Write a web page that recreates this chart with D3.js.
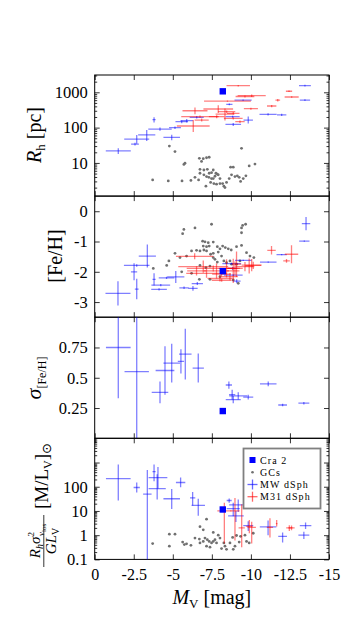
<!DOCTYPE html>
<html>
<head>
<meta charset="utf-8">
<script src="https://cdn.jsdelivr.net/npm/d3@7"></script>
<style>
  body { margin: 0; background: #fff; }
  svg text { font-family: "Liberation Serif", "DejaVu Serif", serif; fill: #000; }
  .tick line { stroke: #000; stroke-width: 0.8; }
  .domain { display: none; }
</style>
</head>
<body>
<script>
// ---- data ----
var cra2 = { mv: -8.2, rh: 1066, feh: -1.98, sigFeh: 0.225, sigFehErr: 0.025, ml: 11.5 };

// Rh panel: [Mv, Rh, xerr, lo, hi]
var mwRh = [
  [-1.51, 22, 0.8, 18, 26], [-2.58, 34, 0.25, 31, 37], [-2.69, 47, 0.8, 35, 62],
  [-3.33, 62, 0.55, 42, 85], [-3.8, 168, 0.1, 140, 195], [-4.18, 91, 0.75, 82, 100],
  [-4.93, 53, 0.53, 44, 63], [-5.14, 100, 0.38, 92, 108], [-5.57, 147, 0.4, 132, 160],
  [-5.89, 157, 0.4, 140, 175], [-6.53, 196, 0.45, 180, 212], [-8.62, 456, 0.2, 430, 480],
  [-8.83, 204, 0.45, 190, 218], [-8.87, 124, 0.5, 112, 136], [-9.5, 600, 0.55, 570, 630],
  [-9.83, 164, 0.3, 130, 205], [-11.1, 238, 0.55, 222, 255], [-11.97, 230, 0.3, 215, 245],
  [-13.46, 600, 0.33, 565, 640], [-13.46, 1540, 0.38, 1450, 1640]
];
var m31Rh = [
  [-9.19, 1540, 0.75, 1470, 1610], [-10.05, 800, 0.9, 740, 860], [-9.62, 760, 0.6, 710, 810],
  [-12.44, 1070, 0.2, 1020, 1120], [-12.61, 735, 0.45, 700, 770], [-11.72, 600, 0.15, 550, 650],
  [-11.33, 410, 0.3, 380, 440], [-10.0, 343, 0.45, 320, 366], [-8.5, 565, 1.5, 540, 590],
  [-7.91, 337, 0.95, 260, 430], [-6.42, 300, 0.8, 240, 370], [-8.45, 282, 0.55, 260, 305],
  [-8.87, 254, 0.4, 235, 275], [-6.74, 204, 1.2, 190, 220], [-6.31, 111, 1.05, 75, 165],
  [-7.81, 204, 0.5, 185, 225], [-9.3, 147, 0.3, 135, 160], [-8.87, 183, 0.6, 170, 196],
  [-6.85, 164, 0.45, 150, 180], [-8.34, 240, 0.6, 160, 350]
];
var gcRh = [
  [-3.71, 3.3], [-4.71, 3.1], [-5.59, 3.1], [-4.78, 30], [-5.14, 21], [-5.71, 9.1], [-5.78, 9.8],
  [-6.16, 3.2], [-6.42, 3.9], [-6.65, 3.3], [-6.7, 13.5], [-6.95, 13.2], [-7.16, 14], [-7.33, 14.5],
  [-6.84, 11], [-6.74, 6.6], [-6.99, 6.3], [-7.21, 6.6], [-7.33, 5.1], [-7.48, 5.3], [-7.59, 6.3],
  [-7.76, 5.1], [-7.85, 4.8], [-6.99, 4.6], [-7.16, 4.1], [-7.31, 3.9], [-7.48, 3.6], [-7.59, 3.6],
  [-7.7, 4.2], [-7.91, 4.6], [-7.12, 2.2], [-7.42, 2.8], [-7.63, 2.6], [-7.8, 2.5], [-8.02, 2.6],
  [-8.19, 2.6], [-8.27, 2.2], [-8.34, 2.0], [-8.44, 2.8], [-8.61, 3.6], [-8.7, 7.6], [-8.87, 7.6],
  [-8.76, 4.6], [-8.98, 4.1], [-9.13, 4.3], [-9.25, 3.9], [-9.34, 3.0], [-9.4, 26], [-9.51, 3.6],
  [-9.68, 4.3], [-9.89, 8.2], [-10.26, 9.3], [-6.74, 5.1], [-8.02, 3.6]
];

// [Fe/H] panel: [Mv, FeH, xerr, yerr]
var mwFeh = [
  [-1.49, -2.71, 0.8, 0.4], [-2.52, -2.0, 0.2, 0.28], [-2.69, -1.79, 0.82, 0.04],
  [-3.37, -1.48, 0.55, 0.38], [-2.69, -2.57, 0.12, 0.34], [-3.8, -2.25, 0.1, 0.2],
  [-4.23, -2.44, 0.6, 0.04], [-4.12, -2.58, 0.5, 0.04], [-5.19, -2.17, 0.55, 0.2],
  [-4.6, -2.2, 0.5, 0.04], [-5.72, -2.53, 0.3, 0.04], [-6.29, -2.55, 0.3, 0.08],
  [-6.57, -2.39, 0.36, 0.05], [-13.53, -0.41, 0.27, 0.22], [-13.42, -0.99, 0.33, 0.02],
  [-11.11, -1.68, 0.53, 0.02], [-11.97, -1.43, 0.33, 0.02], [-9.51, -1.62, 0.53, 0.02],
  [-8.77, -1.73, 0.6, 0.03], [-8.87, -2.11, 0.6, 0.03], [-9.09, -2.31, 0.25, 0.06],
  [-8.83, -1.89, 0.3, 0.05]
];
var m31Feh = [
  [-6.4, -1.49, 1.2, 0.1], [-6.95, -1.83, 1.6, 0.2], [-7.59, -1.89, 1.7, 0.1],
  [-7.8, -1.97, 0.8, 0.25], [-7.16, -2.05, 1.3, 0.15], [-8.44, -1.89, 0.5, 0.3],
  [-8.87, -1.97, 0.4, 0.4], [-9.08, -1.75, 0.3, 0.42], [-9.62, -1.83, 0.6, 0.15],
  [-9.89, -1.81, 0.25, 0.25], [-10.15, -1.79, 0.5, 0.12], [-8.02, -2.22, 0.8, 0.1],
  [-8.12, -2.08, 0.6, 0.1], [-6.52, -1.97, 0.6, 0.15], [-11.32, -1.29, 0.27, 0.14],
  [-12.28, -1.64, 0.21, 0.06], [-12.6, -1.42, 0.43, 0.3], [-8.66, -2.16, 0.5, 0.12],
  [-8.98, -1.89, 0.5, 0.23], [-10.05, -1.78, 0.64, 0.2], [-8.13, -2.28, 0.64, 0.05]
];
var gcFeh = [
  [-5.63, -0.74], [-5.71, -0.6], [-6.42, -0.55], [-7.48, -0.43], [-9.4, -0.55], [-9.47, -0.47],
  [-9.66, -0.43], [-9.4, -0.71], [-6.91, -0.99], [-7.06, -1.01], [-7.27, -1.04], [-7.59, -1.02],
  [-6.95, -1.15], [-7.16, -1.17], [-7.33, -1.15], [-7.85, -1.17], [-8.19, -1.15], [-8.36, -1.2],
  [-8.55, -1.24], [-8.74, -1.28], [-9.08, -1.17], [-9.4, -1.13], [-9.72, -1.37], [-10.19, -1.53],
  [-9.94, -1.48], [-5.14, -1.39], [-5.46, -1.53], [-5.88, -1.48], [-6.2, -1.31], [-6.52, -1.29],
  [-6.74, -1.31], [-6.99, -1.28], [-7.16, -1.31], [-7.42, -1.42], [-7.59, -1.39], [-7.91, -1.35],
  [-8.02, -1.24], [-7.59, -1.53], [-7.7, -1.59], [-7.85, -1.68], [-8.12, -1.48], [-8.27, -1.64],
  [-8.44, -1.7], [-8.66, -1.64], [-8.76, -1.75], [-9.08, -1.75], [-9.3, -1.64], [-6.74, -1.79],
  [-7.12, -1.86], [-7.38, -1.81], [-4.75, -1.64], [-4.61, -1.79], [-3.75, -1.89], [-5.57, -2.0],
  [-6.2, -2.05], [-6.7, -2.25], [-7.38, -2.25], [-8.02, -2.16], [-9.19, -2.38], [-8.87, -2.27]
];

// sigma[Fe/H] panel: [Mv, sigma, xerr, yerr]
var mwSig = [
  [-1.51, 0.75, 0.79, 0.42], [-2.69, 0.55, 0.78, 0.6], [-4.18, 0.38, 0.53, 0.09],
  [-4.5, 0.56, 0.6, 0.2], [-4.93, 0.62, 0.53, 0.16], [-5.52, 0.635, 0.2, 0.1],
  [-5.8, 0.695, 0.4, 0.21], [-6.63, 0.58, 0.36, 0.12], [-8.59, 0.44, 0.2, 0.03],
  [-8.8, 0.36, 0.2, 0.04], [-8.87, 0.32, 0.48, 0.03], [-9.19, 0.35, 0.58, 0.03],
  [-9.83, 0.34, 0.32, 0.02], [-11.11, 0.45, 0.53, 0.02], [-12.03, 0.275, 0.28, 0.01],
  [-13.39, 0.29, 0.35, 0.01]
];

// M/L panel: [Mv, M/L, xerr, lo, hi]
var mwML = [
  [-1.51, 218, 0.79, 27, 830], [-2.69, 93, 0.2, 58, 150], [-3.37, 50, 0.27, 0.01, 490],
  [-3.8, 420, 0.1, 170, 830], [-4.05, 240, 0.6, 85, 650], [-4.0, 83, 0.55, 30, 330],
  [-4.93, 32, 0.53, 12, 80], [-5.5, 150, 0.3, 95, 240], [-6.27, 35, 0.17, 17, 60],
  [-6.63, 17, 0.43, 6.3, 32], [-8.61, 27, 0.16, 22, 33], [-8.87, 12.4, 0.42, 6, 22],
  [-9.19, 18, 0.58, 9, 30], [-9.04, 6.3, 0.5, 3.5, 10], [-9.83, 2.5, 0.32, 1.5, 3.8],
  [-11.1, 2.2, 0.53, 1.0, 4.0], [-12.03, 0.9, 0.28, 0.5, 1.3], [-13.39, 1.0, 0.35, 0.7, 1.4],
  [-13.5, 2.5, 0.37, 1.8, 3.3]
];
var m31ML = [
  [-8.3, 10, 0.45, 0.45, 22], [-8.98, 10, 0.3, 0.6, 34], [-9.41, 2.0, 0.2, 0.32, 19],
  [-10.05, 2.1, 0.27, 0.45, 3.6], [-9.9, 2.3, 0.2, 1.2, 4.2], [-11.22, 2.1, 0.2, 0.8, 5.0],
  [-11.65, 3.0, 0.05, 2.3, 4.2], [-12.46, 2.0, 0.2, 1.5, 2.6], [-12.6, 2.0, 0.2, 1.6, 2.5]
];
var gcML = [
  [-3.71, 0.45], [-4.78, 1.1], [-5.14, 1.1], [-4.78, 0.35], [-5.63, 0.52], [-5.74, 0.41],
  [-5.88, 0.44], [-6.16, 0.38], [-6.42, 0.76], [-6.7, 0.69], [-6.74, 0.48], [-6.95, 0.55],
  [-7.06, 0.76], [-7.16, 4.6], [-7.21, 0.65], [-7.33, 0.55], [-7.48, 0.48], [-7.59, 0.55],
  [-7.7, 0.65], [-7.8, 0.48], [-7.16, 0.35], [-7.38, 0.32], [-7.91, 1.0], [-8.02, 0.76],
  [-8.12, 0.28], [-8.27, 0.48], [-8.34, 0.35], [-8.44, 0.26], [-8.66, 0.48], [-8.83, 0.81],
  [-8.98, 0.35], [-9.08, 0.97], [-9.25, 0.52], [-9.34, 0.9], [-9.62, 1.0], [-9.72, 0.55],
  [-9.89, 0.48], [-10.15, 1.2], [-8.87, 0.26], [-6.95, 1.66], [-6.74, 2.24], [-7.59, 1.3]
];

var xTicks = [0, -2.5, -5, -7.5, -10, -12.5, -15];
var legendLabels = ['Cra 2', 'GCs', 'MW dSph', 'M31 dSph'];

// ---- layout ----
var W = 349, H = 619;
var X0 = 94.7, X1 = 329;
var T = [75, 196.1, 317.2, 438.3, 559.4];

var svg = d3.select('body').append('svg').attr('width', W).attr('height', H);
svg.append('rect').attr('width', W).attr('height', H).attr('fill', '#fff');

var x = d3.scaleLinear().domain([0, -15]).range([X0, X1]);

function logMinor(lo, hi) {
  var out = [];
  for (var e = Math.floor(Math.log10(lo)); e <= Math.ceil(Math.log10(hi)); e++) {
    for (var m = 2; m < 10; m++) {
      var v = m * Math.pow(10, e);
      if (v >= lo && v <= hi) out.push(v);
    }
  }
  return out;
}

var panels = [
  { y: d3.scaleLog().domain([1.15, 3090]).range([T[1], T[0]]), log: true, major: [10, 100, 1000], minor: logMinor(1.15, 3090) },
  { y: d3.scaleLinear().domain([-3.5, 0.5]).range([T[2], T[1]]), major: [-3, -2, -1, 0], minor: [] },
  { y: d3.scaleLinear().domain([0, 1]).range([T[3], T[2]]), major: [0.25, 0.5, 0.75], minor: [] },
  { y: d3.scaleLog().domain([0.1, 10000]).range([T[4], T[3]]), log: true, major: [0.1, 1, 10, 100, 1000], minor: logMinor(0.1, 10000), labels: [0.1, 1, 10, 100] }
];

var BLUE = '#0000ff', RED = '#ff0000', GREY = '#707070';

panels.forEach(function (p, i) {
  var top = T[i], bot = T[i + 1];
  var fmt = function (d) {
    if (p.labels && p.labels.indexOf(d) < 0) return '';
    return String(d);
  };

  svg.append('clipPath').attr('id', 'clip' + i)
    .append('rect').attr('x', X0).attr('y', top).attr('width', X1 - X0).attr('height', bot - top);

  var ax = svg.append('g').attr('class', 'axes');
  ax.append('g').attr('transform', 'translate(' + X0 + ',0)')
    .call(d3.axisLeft(p.y).tickValues(p.major).tickSize(-5).tickPadding(7).tickFormat(fmt))
    .selectAll('text').attr('font-size', 16.5);
  ax.append('g').attr('transform', 'translate(' + X1 + ',0)')
    .call(d3.axisRight(p.y).tickValues(p.major).tickSize(-5).tickFormat(''));
  if (p.minor.length) {
    ax.append('g').attr('transform', 'translate(' + X0 + ',0)')
      .call(d3.axisLeft(p.y).tickValues(p.minor).tickSize(-2.5).tickFormat(''));
    ax.append('g').attr('transform', 'translate(' + X1 + ',0)')
      .call(d3.axisRight(p.y).tickValues(p.minor).tickSize(-2.5).tickFormat(''));
  }
  ax.append('g').attr('transform', 'translate(0,' + top + ')')
    .call(d3.axisTop(x).tickValues(xTicks).tickSize(-5).tickFormat(''));
  var bx = ax.append('g').attr('transform', 'translate(0,' + bot + ')')
    .call(d3.axisBottom(x).tickValues(xTicks).tickSize(-5).tickPadding(9)
      .tickFormat(i === 3 ? function (d) { return String(d); } : ''));
  bx.selectAll('text').attr('font-size', 16);
  ax.selectAll('text').attr('font-family', '"Liberation Serif", serif');

  svg.append('rect').attr('x', X0).attr('y', top).attr('width', X1 - X0).attr('height', bot - top)
    .attr('fill', 'none').attr('stroke', '#000').attr('stroke-width', 1);

  p.layer = svg.append('g').attr('clip-path', 'url(#clip' + i + ')');
});

// error-bar crosses
function crosses(p, data, color, lin) {
  var y = p.y;
  var g = p.layer.append('g').attr('stroke', color).attr('stroke-opacity', 0.5).attr('stroke-width', 1.3);
  data.forEach(function (d) {
    var lo = lin ? d[1] - d[3] : d[3];
    var hi = lin ? d[1] + d[3] : d[4];
    if (p.log) lo = Math.max(lo, y.domain()[0] / 10);
    g.append('line').attr('x1', x(d[0] - d[2])).attr('x2', x(d[0] + d[2]))
      .attr('y1', y(d[1])).attr('y2', y(d[1]));
    g.append('line').attr('x1', x(d[0])).attr('x2', x(d[0]))
      .attr('y1', y(lo)).attr('y2', y(hi));
  });
}
function gcs(p, data) {
  p.layer.append('g').selectAll('circle').data(data).enter().append('circle')
    .attr('cx', function (d) { return x(d[0]); })
    .attr('cy', function (d) { return p.y(d[1]); })
    .attr('r', 1.4).attr('fill', GREY);
}
function cra(p, v) {
  p.layer.append('rect').attr('x', x(cra2.mv) - 3.2).attr('y', p.y(v) - 3.2)
    .attr('width', 6.4).attr('height', 6.4).attr('fill', BLUE);
}

var P = panels;
gcs(P[0], gcRh);
crosses(P[0], mwRh, BLUE, false);
crosses(P[0], m31Rh, RED, false);
cra(P[0], cra2.rh);

gcs(P[1], gcFeh);
crosses(P[1], mwFeh, BLUE, true);
crosses(P[1], m31Feh, RED, true);
cra(P[1], cra2.feh);

crosses(P[2], mwSig, BLUE, true);
P[2].layer.append('line').attr('stroke', BLUE).attr('stroke-width', 1.3)
  .attr('x1', x(cra2.mv)).attr('x2', x(cra2.mv))
  .attr('y1', P[2].y(cra2.sigFeh - cra2.sigFehErr)).attr('y2', P[2].y(cra2.sigFeh + cra2.sigFehErr));
cra(P[2], cra2.sigFeh);

gcs(P[3], gcML);
crosses(P[3], mwML, BLUE, false);
crosses(P[3], m31ML, RED, false);
cra(P[3], cra2.ml);

// ---- legend ----
var lg = svg.append('g');
lg.append('rect').attr('x', 243.5).attr('y', 448.5).attr('width', 77).attr('height', 60)
  .attr('fill', '#fff').attr('stroke', '#808080').attr('stroke-width', 1.8);
var ly = [460, 472.3, 484.5, 496.7];
lg.append('rect').attr('x', 249.5).attr('y', ly[0] - 3).attr('width', 6).attr('height', 6).attr('fill', BLUE);
lg.append('circle').attr('cx', 252.5).attr('cy', ly[1]).attr('r', 1.3).attr('fill', GREY);
[[BLUE, ly[2]], [RED, ly[3]]].forEach(function (c) {
  var g = lg.append('g').attr('stroke', c[0]).attr('stroke-opacity', 0.6).attr('stroke-width', 1.3);
  g.append('line').attr('x1', 247.5).attr('x2', 257.5).attr('y1', c[1]).attr('y2', c[1]);
  g.append('line').attr('x1', 252.5).attr('x2', 252.5).attr('y1', c[1] - 5).attr('y2', c[1] + 5);
});
legendLabels.forEach(function (t, k) {
  lg.append('text').attr('x', 260).attr('y', ly[k] + 3.5).attr('font-size', 10)
    .attr('letter-spacing', 1.1).text(t);
});

// ---- axis titles ----
svg.append('text').attr('x', X0 + (X1 - X0) / 2).attr('y', 604).attr('text-anchor', 'middle')
  .attr('font-size', 20)
  .html('<tspan font-style="italic">M</tspan><tspan font-size="13" dy="4">V</tspan><tspan dy="-4"> [mag]</tspan>');

function ylab(px, py, html, size) {
  svg.append('text').attr('transform', 'translate(' + px + ',' + py + ') rotate(-90)')
    .attr('text-anchor', 'middle').attr('font-size', size).html(html);
}
ylab(41, 135, '<tspan font-style="italic">R</tspan><tspan font-size="13" dy="4">h</tspan><tspan dy="-4"> [pc]</tspan>', 20);
ylab(62, 256, '[Fe/H]', 20);
ylab(41, 378, '<tspan font-style="italic" font-size="22">σ</tspan><tspan font-size="12" dy="5">[Fe/H]</tspan>', 20);

// M/L label: fraction + bracket
ylab(40, 541, '<tspan font-style="italic">R</tspan><tspan font-style="italic" font-size="10" dy="3">h</tspan>' +
  '<tspan font-style="italic" dy="-3">σ</tspan><tspan font-size="9" dy="-6">2</tspan>' +
  '<tspan font-style="italic" font-size="9" dx="-4" dy="10">v</tspan><tspan font-size="7" dy="2">los</tspan>', 15);
svg.append('line').attr('x1', 43.8).attr('x2', 43.8).attr('y1', 515).attr('y2', 567)
  .attr('stroke', '#000').attr('stroke-width', 0.8);
ylab(56, 541, '<tspan font-style="italic">GL</tspan><tspan font-size="10" dy="3">V</tspan>', 15);
ylab(48, 476, '[M/L<tspan font-size="12" dy="4">V</tspan><tspan dy="-4">]</tspan><tspan font-size="13" dy="3" font-family="DejaVu Sans">⊙</tspan>', 19);
</script>
</body>
</html>
